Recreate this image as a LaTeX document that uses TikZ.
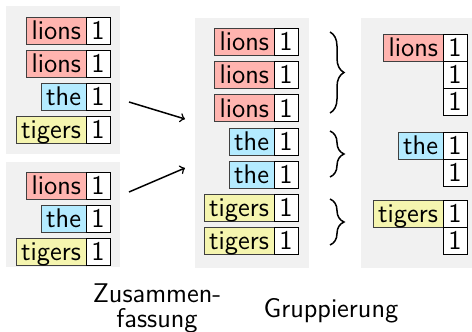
\documentclass[tikz,border=0pt]{standalone}
\usepackage{fontspec}
\usetikzlibrary{positioning,decorations.pathreplacing}

\definecolor{lionred}{RGB}{255,180,175}
\definecolor{theblue}{RGB}{180,235,255}
\definecolor{tigeryellow}{RGB}{245,245,175}
\definecolor{panelgray}{RGB}{241,241,241}

\begin{document}
\begin{tikzpicture}[
    x=0.5pt, y=-0.5pt,
    font=\sffamily\fontsize{13.5}{12.5}\selectfont,
    word/.style={rectangle, draw=black!75, anchor=east, outer sep=0pt,
        minimum height=13.5pt, inner xsep=2.5pt, inner ysep=0pt,
        text height=11.1pt, text depth=2.4pt},
    num/.style={rectangle, draw, fill=white, outer sep=0pt,
        minimum height=13.5pt, minimum width=12pt, inner sep=0pt,
        text height=11.1pt, text depth=2.4pt},
    ptr/.style={->, line width=0.75pt},
    brace/.style={decorate, decoration={brace, amplitude=7pt}, line width=0.75pt}
]
    \useasboundingbox (0,0) rectangle (472,332);

    % Panels
    \fill[panelgray] (6,6) rectangle (120,154);
    \fill[panelgray] (6,162) rectangle (120,267);
    \fill[panelgray] (195,18) rectangle (309,268);
    \fill[panelgray] (361,18) rectangle (472,268);

    % Input A
    \foreach \y/\w/\c [count=\i] in {30.5/lions/lionred, 63.5/lions/lionred,
            96.5/the/theblue, 129.5/tigers/tigeryellow} {
        \node[word, fill=\c] (a\i) at (86,\y) {\w};
        \node[num, right=0pt of a\i] (an\i) {1};
    }

    % Input B
    \foreach \y/\w/\c [count=\i] in {185.5/lions/lionred, 218.5/the/theblue,
            251.5/tigers/tigeryellow} {
        \node[word, fill=\c] (b\i) at (86,\y) {\w};
        \node[num, right=0pt of b\i] (bn\i) {1};
    }

    % Merged
    \foreach \y/\w/\c [count=\i] in {42/lions/lionred, 75.2/lions/lionred,
            108.3/lions/lionred, 141.5/the/theblue, 174.6/the/theblue,
            207.8/tigers/tigeryellow, 241/tigers/tigeryellow} {
        \node[word, fill=\c] (m\i) at (274,\y) {\w};
        \node[num, right=0pt of m\i] (mn\i) {1};
    }

    % Grouped
    \node[word, fill=lionred] (gl) at (443,47.5) {lions};
    \node[num, right=0pt of gl] (gl1) {1};
    \node[num, below=0pt of gl1] (gl2) {1};
    \node[num, below=0pt of gl2] (gl3) {1};
    \node[word, fill=theblue] (gt) at (443,146) {the};
    \node[num, right=0pt of gt] (gt1) {1};
    \node[num, below=0pt of gt1] (gt2) {1};
    \node[word, fill=tigeryellow] (gg) at (443,214) {tigers};
    \node[num, right=0pt of gg] (gg1) {1};
    \node[num, below=0pt of gg1] (gg2) {1};

    % Arrows
    \coordinate (fromA) at (129,102);
    \coordinate (toA) at (185,119);
    \coordinate (fromB) at (129,192);
    \coordinate (toB) at (185,168);
    \draw[ptr] (fromA) -- (toA);
    \draw[ptr] (fromB) -- (toB);

    % Braces
    \draw[brace] (330,32) -- (330,113);
    \draw[brace] (330,131) -- (330,177);
    \draw[brace] (330,199) -- (330,245);

    \node[align=center] (merge) at (157,308) {Zusammen-\\fassung};
    \node[anchor=base] (group) at (331,317) {Gruppierung};
\end{tikzpicture}
\end{document}
